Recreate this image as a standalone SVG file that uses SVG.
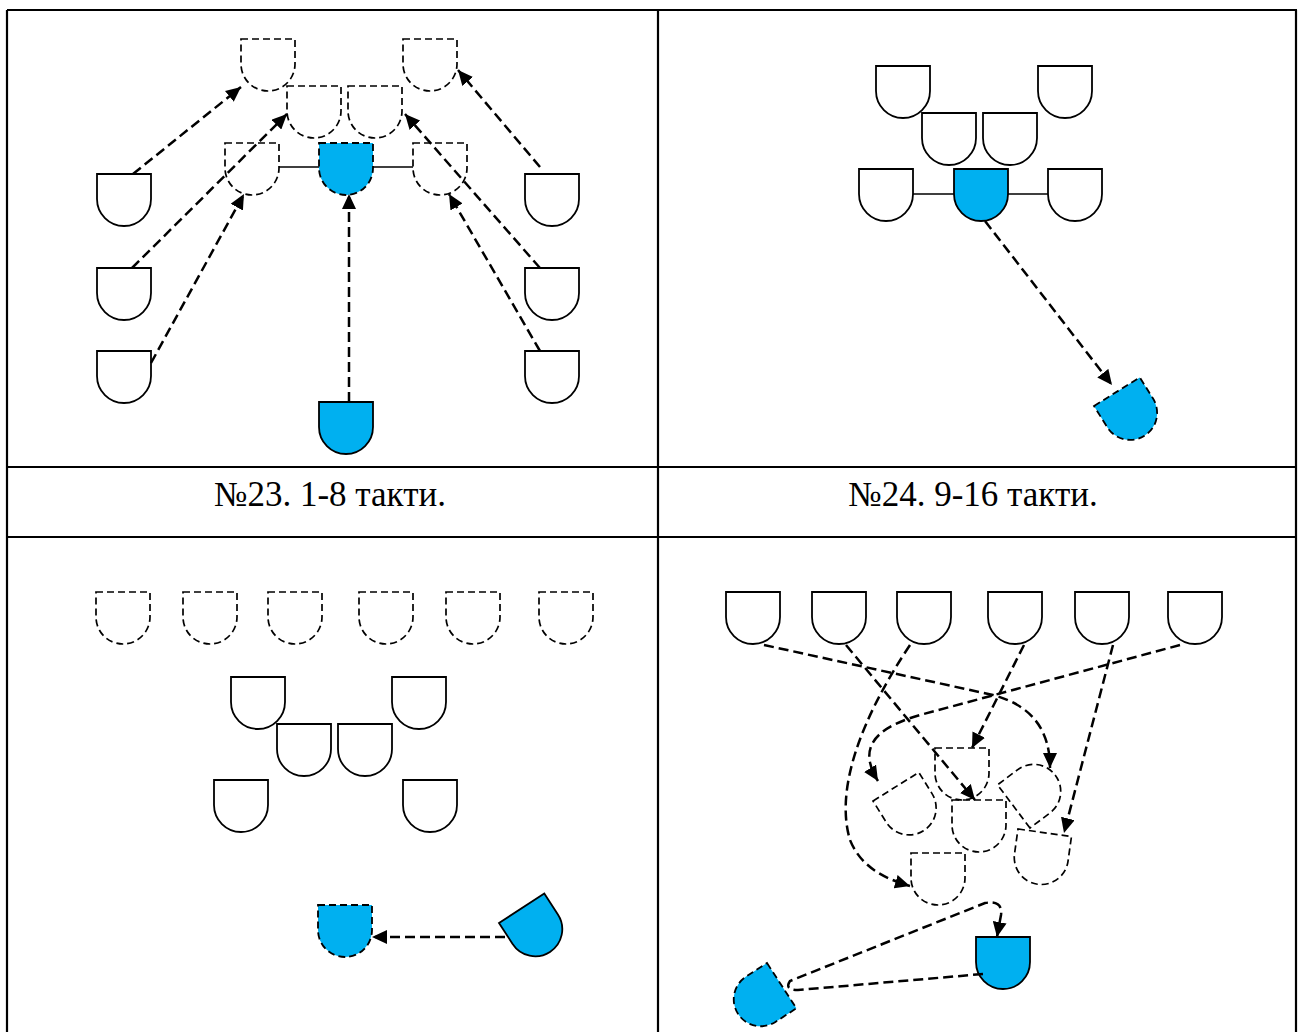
<svg xmlns="http://www.w3.org/2000/svg" xmlns:xlink="http://www.w3.org/1999/xlink" width="1299" height="1032" viewBox="0 0 1299 1032">
<style>
.tbl{stroke:#000;stroke-width:2.2;fill:none}
.sol{fill:#fff;stroke:#000;stroke-width:1.8}
.dsh{fill:none;stroke:#000;stroke-width:1.7;stroke-dasharray:7 4}
.bsol{fill:#00B0F0;stroke:#000;stroke-width:1.8}
.bdsh{fill:#00B0F0;stroke:#000;stroke-width:1.8;stroke-dasharray:7 4}
.ln{stroke:#000;stroke-width:1.6;fill:none}
.con{fill:none;stroke:#000;stroke-width:2.5;stroke-dasharray:10 5;marker-end:url(#ah)}
text{font-family:'Liberation Serif','DejaVu Serif','Times New Roman',serif;font-size:35px;fill:#000;text-anchor:middle}
</style>
<defs>
<path id="d" d="M0,0 H54 V25 A27,27 0 0 1 0,25 Z"/>
<marker id="ah" markerUnits="userSpaceOnUse" markerWidth="16" markerHeight="14" refX="15" refY="7" orient="auto">
<path d="M0,0 L15,7 L0,14 Z" fill="#000"/>
</marker>
</defs>
<rect width="1299" height="1032" fill="#fff"/>
<g id="table">
<path class="tbl" d="M7,10 H1297 M7,467 H1297 M7,537 H1297 M7,10 V1032 M658,10 V1032 M1296,10 V1032"/>
</g>
<g id="labels">
<text x="330" y="506">№23. 1-8 такти.</text>
<text x="973" y="506">№24. 9-16 такти.</text>
</g>

<!-- Panel 1 -->
<g id="p1-lines"><path class="ln" d="M279,167 H319 M373,167 H413"/></g>
<g id="p1-n1"><use href="#d" class="dsh" x="241" y="39"/></g>
<g id="p1-n2"><use href="#d" class="dsh" x="403" y="39"/></g>
<g id="p1-n3"><use href="#d" class="dsh" x="287" y="86"/></g>
<g id="p1-n4"><use href="#d" class="dsh" x="348" y="86"/></g>
<g id="p1-n5"><use href="#d" class="dsh" x="225" y="143"/></g>
<g id="p1-n6"><use href="#d" class="bdsh" x="319" y="143"/></g>
<g id="p1-n7"><use href="#d" class="dsh" x="413" y="143"/></g>
<g id="p1-n8"><use href="#d" class="sol" x="97" y="174"/></g>
<g id="p1-n9"><use href="#d" class="sol" x="97" y="268"/></g>
<g id="p1-n10"><use href="#d" class="sol" x="97" y="351"/></g>
<g id="p1-n11"><use href="#d" class="sol" x="525" y="174"/></g>
<g id="p1-n12"><use href="#d" class="sol" x="525" y="268"/></g>
<g id="p1-n13"><use href="#d" class="sol" x="525" y="351"/></g>
<g id="p1-n14"><use href="#d" class="bsol" x="319" y="402"/></g>

<!-- Panel 2 -->
<g id="p2-lines"><path class="ln" d="M913,194 H954 M1007,194 H1048"/></g>
<g id="p2-n1"><use href="#d" class="sol" x="876" y="66"/></g>
<g id="p2-n2"><use href="#d" class="sol" x="1038" y="66"/></g>
<g id="p2-n3"><use href="#d" class="sol" x="922" y="113"/></g>
<g id="p2-n4"><use href="#d" class="sol" x="983" y="113"/></g>
<g id="p2-n5"><use href="#d" class="sol" x="859" y="169"/></g>
<g id="p2-n6"><use href="#d" class="bsol" x="954" y="169"/></g>
<g id="p2-n7"><use href="#d" class="sol" x="1048" y="169"/></g>
<g id="p2-n8" transform="translate(1094,406) rotate(-32)"><use href="#d" class="bdsh"/></g>

<!-- Panel 3 -->
<g id="p3-n1"><use href="#d" class="dsh" x="96" y="592"/></g>
<g id="p3-n2"><use href="#d" class="dsh" x="183" y="592"/></g>
<g id="p3-n3"><use href="#d" class="dsh" x="268" y="592"/></g>
<g id="p3-n4"><use href="#d" class="dsh" x="359" y="592"/></g>
<g id="p3-n5"><use href="#d" class="dsh" x="446" y="592"/></g>
<g id="p3-n6"><use href="#d" class="dsh" x="539" y="592"/></g>
<g id="p3-n7"><use href="#d" class="sol" x="231" y="677"/></g>
<g id="p3-n8"><use href="#d" class="sol" x="392" y="677"/></g>
<g id="p3-n9"><use href="#d" class="sol" x="277" y="724"/></g>
<g id="p3-n10"><use href="#d" class="sol" x="338" y="724"/></g>
<g id="p3-n11"><use href="#d" class="sol" x="214" y="780"/></g>
<g id="p3-n12"><use href="#d" class="sol" x="403" y="780"/></g>
<g id="p3-n13"><use href="#d" class="bdsh" x="318" y="905"/></g>
<g id="p3-n14" transform="translate(499,923) rotate(-33)"><use href="#d" class="bsol"/></g>

<!-- Panel 4 -->
<g id="p4-n1"><use href="#d" class="sol" x="726" y="592"/></g>
<g id="p4-n2"><use href="#d" class="sol" x="812" y="592"/></g>
<g id="p4-n3"><use href="#d" class="sol" x="897" y="592"/></g>
<g id="p4-n4"><use href="#d" class="sol" x="988" y="592"/></g>
<g id="p4-n5"><use href="#d" class="sol" x="1075" y="592"/></g>
<g id="p4-n6"><use href="#d" class="sol" x="1168" y="592"/></g>
<g id="p4-n7"><use href="#d" class="dsh" x="935" y="748"/></g>
<g id="p4-n8"><use href="#d" class="dsh" x="952" y="800"/></g>
<g id="p4-n9"><use href="#d" class="dsh" x="911" y="853"/></g>
<g id="p4-n10" transform="translate(873,801) rotate(-32)"><use href="#d" class="dsh"/></g>
<g id="p4-n11" transform="translate(1030,828) rotate(-127)"><use href="#d" class="dsh"/></g>
<g id="p4-n12" transform="translate(1018,829) rotate(8)"><use href="#d" class="dsh"/></g>
<g id="p4-n13"><use href="#d" class="bsol" x="976" y="937"/></g>
<g id="p4-n14" transform="translate(767,963) rotate(57)"><use href="#d" class="bdsh"/></g>

<g id="connectors">
<path class="con" d="M133,174 L241,87"/>
<path class="con" d="M132,268 L287,114"/>
<path class="con" d="M151,363 L244,194"/>
<path class="con" d="M349,402 L349,194"/>
<path class="con" d="M540,351 L449,194"/>
<path class="con" d="M540,268 L405,114"/>
<path class="con" d="M540,167 L458,70"/>
<path class="con" d="M985,221 L1112,385"/>
<path class="con" d="M505,937 L372,937"/>
<path class="con" d="M764,645 L993,695 C1030,705 1050,728 1050,768"/>
<path class="con" d="M846,645 L975,800"/>
<path class="con" d="M910,645 C860,720 835,790 850,840 C862,870 890,880 910,886"/>
<path class="con" d="M1024,645 L972,748"/>
<path class="con" d="M1113,645 L1064,833"/>
<path class="con" d="M1180,645 L920,715 C868,730 860,752 878,781"/>
<path class="con" d="M983,974 L798,990 Q784,990 790,981 L985,903 Q1003,900 1001,915 L997,937"/>
</g>
</svg>
